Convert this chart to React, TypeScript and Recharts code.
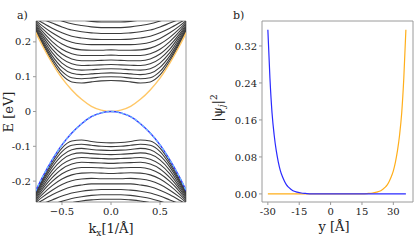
import React from "react";
import { LineChart, Line, XAxis, YAxis, ReferenceArea } from "recharts";

// |k| grid (1/Å) at which the bands were read; the plot is mirrored in k
const K_HALF = [0, 0.1, 0.2, 0.3, 0.4, 0.5, 0.6, 0.7, 0.77];

// conduction bands (eV) at K_HALF
const CB = [
  [0.089, 0.088, 0.085, 0.082, 0.085, 0.105, 0.145, 0.195, 0.234],
  [0.1, 0.099, 0.096, 0.094, 0.097, 0.115, 0.152, 0.2, 0.237],
  [0.111, 0.11, 0.108, 0.106, 0.11, 0.127, 0.16, 0.205, 0.24],
  [0.123, 0.122, 0.12, 0.119, 0.123, 0.139, 0.169, 0.211, 0.243],
  [0.135, 0.134, 0.133, 0.132, 0.137, 0.152, 0.179, 0.217, 0.246],
  [0.148, 0.147, 0.146, 0.146, 0.151, 0.165, 0.19, 0.223, 0.25],
  [0.162, 0.161, 0.161, 0.161, 0.166, 0.179, 0.201, 0.23, 0.254],
  [0.177, 0.176, 0.176, 0.177, 0.182, 0.194, 0.213, 0.238, 0.258],
  [0.192, 0.192, 0.192, 0.194, 0.199, 0.21, 0.226, 0.246, 0.262],
  [0.207, 0.207, 0.208, 0.211, 0.216, 0.226, 0.239, 0.255, 0.267],
  [0.224, 0.224, 0.226, 0.229, 0.234, 0.243, 0.254, 0.265, 0.272],
  [0.241, 0.241, 0.243, 0.247, 0.252, 0.26, 0.269, 0.276, 0.28],
  [0.257, 0.257, 0.259, 0.263, 0.268, 0.275, 0.283, 0.289, 0.292],
];

// valence bands (eV) at K_HALF
const VB = [
  [-0.09, -0.089, -0.086, -0.082, -0.085, -0.105, -0.145, -0.195, -0.234],
  [-0.101, -0.1, -0.097, -0.094, -0.097, -0.115, -0.152, -0.2, -0.237],
  [-0.112, -0.111, -0.109, -0.106, -0.11, -0.127, -0.16, -0.205, -0.24],
  [-0.124, -0.123, -0.121, -0.119, -0.123, -0.139, -0.169, -0.211, -0.243],
  [-0.136, -0.135, -0.134, -0.132, -0.137, -0.152, -0.179, -0.217, -0.246],
  [-0.149, -0.148, -0.147, -0.146, -0.151, -0.165, -0.19, -0.223, -0.25],
  [-0.163, -0.162, -0.161, -0.161, -0.166, -0.179, -0.201, -0.23, -0.254],
  [-0.178, -0.177, -0.176, -0.177, -0.182, -0.194, -0.213, -0.238, -0.258],
  [-0.193, -0.193, -0.192, -0.194, -0.199, -0.21, -0.226, -0.246, -0.262],
  [-0.208, -0.208, -0.208, -0.211, -0.216, -0.226, -0.239, -0.255, -0.267],
  [-0.224, -0.224, -0.226, -0.229, -0.234, -0.243, -0.254, -0.265, -0.272],
  [-0.239, -0.239, -0.241, -0.245, -0.25, -0.258, -0.267, -0.275, -0.28],
  [-0.252, -0.252, -0.254, -0.257, -0.262, -0.27, -0.279, -0.286, -0.29],
];

// edge states at K_HALF
const EDGE_UP = [0, 0.004, 0.015, 0.035, 0.062, 0.096, 0.139, 0.189, 0.228];
const EDGE_DOWN = [0, -0.004, -0.015, -0.035, -0.062, -0.096, -0.139, -0.189, -0.229];

// panel b: position y (Å) and |psi|^2 of the two edge states
const Y_POS = [
  -30, -29, -28, -27, -26, -25, -24, -23, -22, -21, -20, -18, -16, -14, -12, -9,
  -6, -3, 0, 3, 6, 9, 12, 15, 18, 20, 22, 24, 26, 27, 28, 29, 30, 31, 32, 33, 34,
  35, 36,
];
const PSI_BLUE = [
  0.355, 0.25, 0.175, 0.128, 0.094, 0.069, 0.05, 0.037, 0.027, 0.019, 0.014,
  0.007, 0.004, 0.002, 0.001, 0, 0, 0, 0, 0, 0, 0, 0, 0, 0, 0, 0, 0, 0, 0, 0, 0,
  0, 0, 0, 0, 0, 0, 0,
];
const PSI_ORANGE = [
  0, 0, 0, 0, 0, 0, 0, 0, 0, 0, 0, 0, 0, 0, 0, 0, 0, 0, 0, 0, 0, 0, 0, 0, 0.001,
  0.002, 0.004, 0.007, 0.014, 0.019, 0.027, 0.037, 0.05, 0.069, 0.094, 0.128,
  0.175, 0.25, 0.355,
];

const FONT = "'DejaVu Serif', serif";
const FRAME = "#9a9a9a";
const BAND = "#3c3c3c";

const n = K_HALF.length;
const bandData = [];
for (let j = -(n - 1); j < n; j++) {
  const i = Math.abs(j);
  const row: any = { k: Math.sign(j) * K_HALF[i], up: EDGE_UP[i], down: EDGE_DOWN[i] };
  CB.forEach((b, bi) => (row[`c${bi}`] = b[i]));
  VB.forEach((b, bi) => (row[`v${bi}`] = b[i]));
  bandData.push(row);
}

const psiData = Y_POS.map((y, i) => ({ y, blue: PSI_BLUE[i], orange: PSI_ORANGE[i] }));

const fmtK = (v: number) =>
  v === 0 ? "0.0" : (v < 0 ? "\u2212" : "") + Math.abs(v).toFixed(1);
const fmtE = (v: number) => (v === 0 ? "0" : String(v));
const fmtPsi = (v: number) => v.toFixed(2);
const fmtY = (v: number) => String(v);

// serif tick labels (recharts' own tick text ignores the font family here)
const xTick = (fmt: (v: number) => string) => (p: any) => (
  <text x={p.x} y={p.y} dy="0.8em" textAnchor="middle" fontSize={10} fill="#222" fontFamily={FONT}>
    {fmt(p.payload.value)}
  </text>
);
const yTick = (fmt: (v: number) => string) => (p: any) => (
  <text x={p.x} y={p.y} dy="0.36em" textAnchor="end" fontSize={10} fill="#222" fontFamily={FONT}>
    {fmt(p.payload.value)}
  </text>
);

function BandPanel() {
  return (
    <LineChart
      width={200}
      height={243}
      data={bandData}
      margin={{ top: 21, right: 14, bottom: 0, left: 0 }}
    >
      <XAxis
        dataKey="k"
        type="number"
        domain={[-0.765, 0.765]}
        allowDataOverflow
        ticks={[-0.5, 0, 0.5]}
        height={41}
        tickSize={3}
        tick={xTick(fmtK)}
        axisLine={false}
        tickLine={{ stroke: FRAME }}
      />
      <YAxis
        type="number"
        domain={[-0.26, 0.26]}
        allowDataOverflow
        ticks={[-0.2, -0.1, 0, 0.1, 0.2]}
        width={36}
        tickSize={3}
        tick={yTick(fmtE)}
        axisLine={false}
        tickLine={{ stroke: FRAME }}
      />
      {CB.map((_, i) => (
        <Line key={`c${i}`} dataKey={`c${i}`} type="monotone" stroke={BAND} strokeWidth={1.1} dot={false} isAnimationActive={false} />
      ))}
      {VB.map((_, i) => (
        <Line key={`v${i}`} dataKey={`v${i}`} type="monotone" stroke={BAND} strokeWidth={1.1} dot={false} isAnimationActive={false} />
      ))}
      <Line dataKey="up" type="monotone" stroke="#ffc766" strokeWidth={1.4} dot={false} isAnimationActive={false} />
      <Line dataKey="down" type="monotone" stroke="#3838ff" strokeWidth={1.4} dot={false} isAnimationActive={false} />
      <Line dataKey="down" type="monotone" stroke="#6cb6ff" strokeWidth={1.4} strokeDasharray="3 2" dot={false} isAnimationActive={false} />
      <ReferenceArea x1={-0.765} x2={0.765} y1={-0.26} y2={0.26} fill="none" stroke={FRAME} strokeWidth={1} />
    </LineChart>
  );
}

function PsiPanel() {
  return (
    <LineChart
      width={205}
      height={243}
      data={psiData}
      margin={{ top: 21, right: 2, bottom: 0, left: 0 }}
    >
      <XAxis
        dataKey="y"
        type="number"
        domain={[-32.8, 39.4]}
        allowDataOverflow
        ticks={[-30, -15, 0, 15, 30]}
        height={41}
        tickSize={3}
        tick={xTick(fmtY)}
        axisLine={false}
        tickLine={{ stroke: FRAME }}
      />
      <YAxis
        type="number"
        domain={[-0.0175, 0.374]}
        allowDataOverflow
        ticks={[0, 0.08, 0.16, 0.24, 0.32]}
        width={52}
        tickSize={3}
        tick={yTick(fmtPsi)}
        axisLine={false}
        tickLine={{ stroke: FRAME }}
      />
      <Line dataKey="orange" type="monotone" stroke="#ffae1a" strokeWidth={1.2} dot={false} isAnimationActive={false} />
      <Line dataKey="blue" type="monotone" stroke="#2a2aff" strokeWidth={1.2} dot={false} isAnimationActive={false} />
      <ReferenceArea x1={-32.8} x2={39.4} y1={-0.0175} y2={0.374} fill="none" stroke={FRAME} strokeWidth={1} />
    </LineChart>
  );
}

export default function App() {
  return (
    <div
      style={{
        position: "absolute",
        left: 0,
        top: 0,
        width: 415,
        height: 243,
        background: "#fff",
        fontFamily: FONT,
      }}
    >
      <div style={{ position: "absolute", left: 0, top: 0 }}>
        <BandPanel />
      </div>
      <div style={{ position: "absolute", left: 210, top: 0 }}>
        <PsiPanel />
      </div>
      <svg
        width={415}
        height={243}
        style={{ position: "absolute", left: 0, top: 0, pointerEvents: "none" }}
        fontFamily={FONT}
        fill="#222"
      >
        <text x={17} y={19} fontSize={11}>a)</text>
        <text x={233} y={19} fontSize={11}>b)</text>
        <text transform="translate(13,112) rotate(-90)" textAnchor="middle" fontSize={13}>
          E [eV]
        </text>
        <text x={111} y={233} textAnchor="middle" fontSize={13}>
          k<tspan fontSize={9} dy={3}>x</tspan>
          <tspan dy={-3}>[1/Å]</tspan>
        </text>
        <text x={334} y={231} textAnchor="middle" fontSize={13}>
          y [Å]
        </text>
        <text transform="translate(222,108) rotate(-90)" textAnchor="middle" fontSize={13}>
          |ψ<tspan fontSize={9} dy={3} fontStyle="italic">j</tspan>
          <tspan dy={-3}>|</tspan>
          <tspan fontSize={9} dy={-5}>2</tspan>
        </text>
      </svg>
    </div>
  );
}
